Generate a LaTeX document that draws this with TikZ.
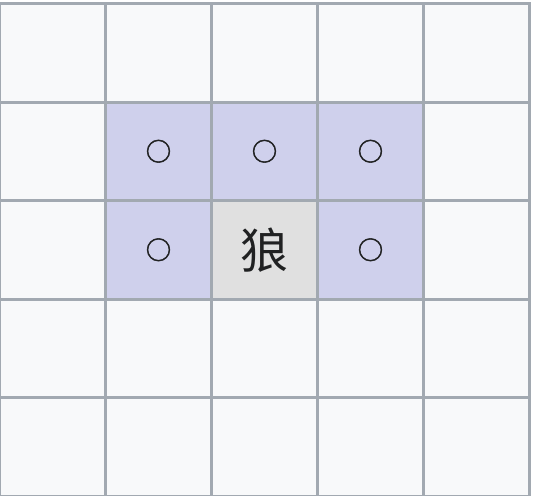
\documentclass[tikz,border=0pt]{standalone}
\usepackage{fontspec}
\newfontfamily\cjk{Noto Sans CJK SC}
\newfontfamily\cjkmark[FakeBold=2]{Noto Sans CJK SC}
\usetikzlibrary{backgrounds}

\definecolor{gridline}{HTML}{A2A9B1}
\definecolor{cellbg}{HTML}{F8F9FA}
\definecolor{reachbg}{HTML}{CFD0EC}
\definecolor{wolfbg}{HTML}{E0E0E0}
\definecolor{inktext}{HTML}{202122}

\begin{document}
\begin{tikzpicture}[x=0.75pt,y=-0.75pt]
        \tikzstyle{cell}=[draw=gridline, fill=cellbg, line width=2.25pt, minimum width=106*0.75pt, minimum height=98.5*0.75pt, inner sep=0pt, outer sep=0pt, text=inktext]
        \tikzstyle{reach}=[cell, fill=reachbg, font=\cjkmark\fontsize{19}{19}\selectfont]
        \tikzstyle{wolf}=[cell, fill=wolfbg, font=\cjk\fontsize{36}{36}\selectfont]

        \useasboundingbox[fill=white] (0,0) rectangle (536,496);

        % board
        \foreach \i in {0,...,4}
          \foreach \j in {0,...,4}
            \node[cell] (c-\i-\j) at (52.5+106*\i, 52.75+98.5*\j) {};

        % moves of the wolf
        \node[reach] (r-1-1) at (c-1-1) {○};
        \node[reach] (r-2-1) at (c-2-1) {○};
        \node[reach] (r-3-1) at (c-3-1) {○};
        \node[reach] (r-1-2) at (c-1-2) {○};
        \node[reach] (r-3-2) at (c-3-2) {○};
        \node[wolf]  (w)     at (c-2-2) {狼};
\end{tikzpicture}
\end{document}
